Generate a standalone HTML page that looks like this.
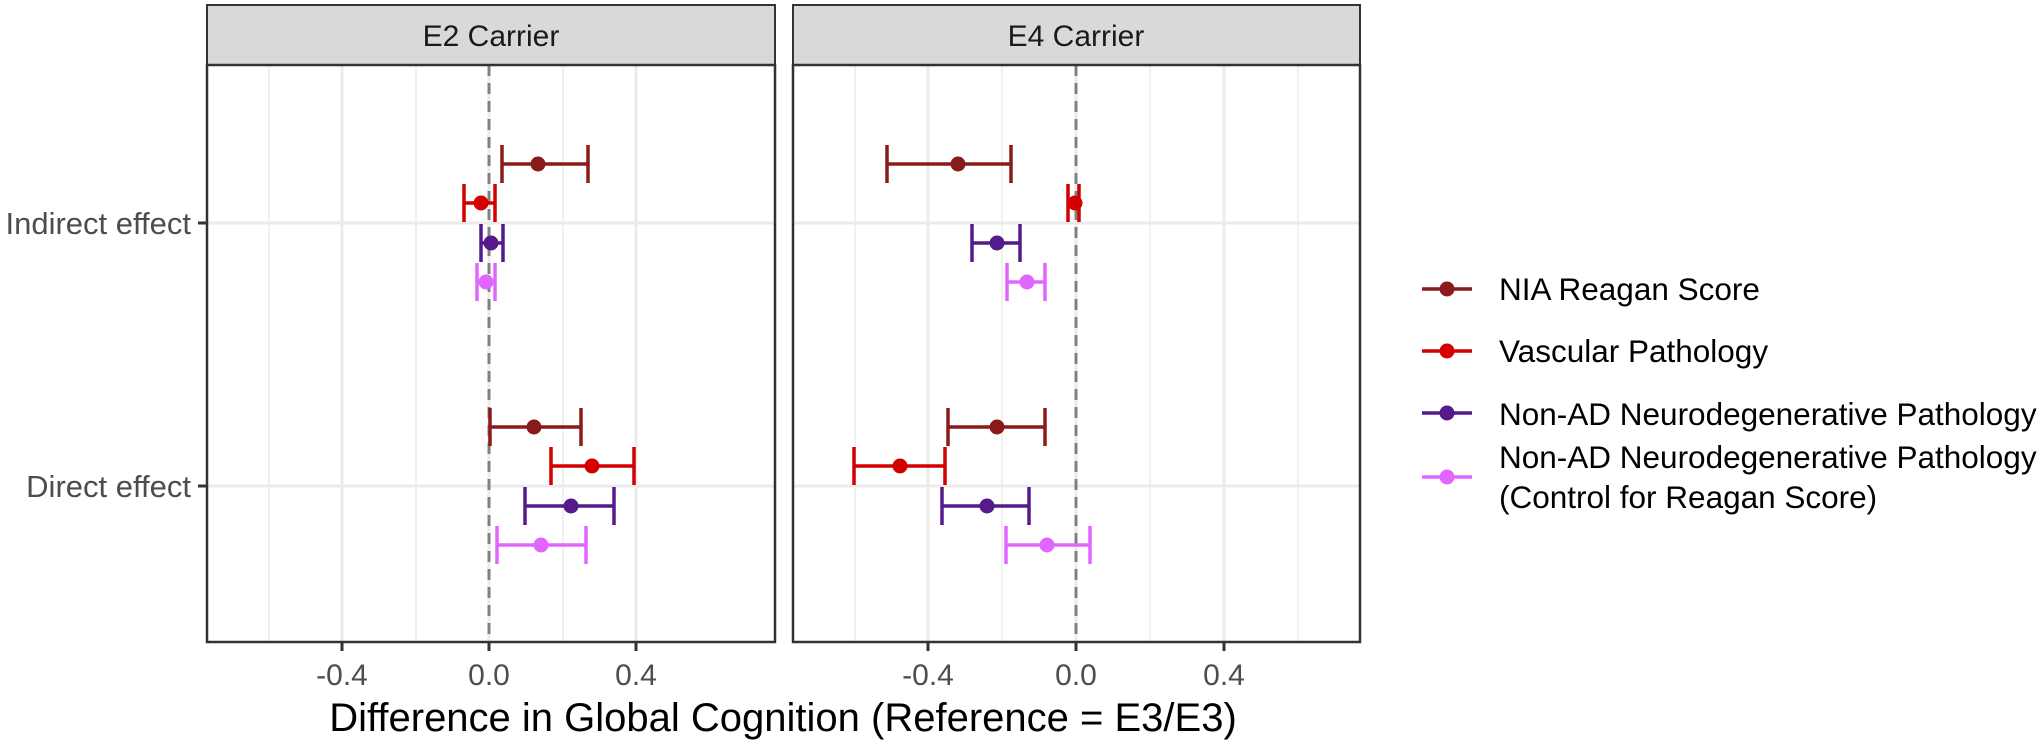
<!DOCTYPE html>
<html><head><meta charset="utf-8"><style>html,body{margin:0;padding:0;background:#fff}svg{display:block}</style></head>
<body>
<svg width="2040" height="744" xmlns="http://www.w3.org/2000/svg" font-family="Liberation Sans, Arial, sans-serif">
<rect width="2040" height="744" fill="#fff"/>
<!-- panel 1 -->
<g>
<rect x="207" y="5" width="568" height="60" fill="#d9d9d9" stroke="#333" stroke-width="2"/>
<text x="491" y="46" font-size="30" text-anchor="middle" fill="#1a1a1a">E2 Carrier</text>
<g stroke="#ebebeb">
<line x1="269" y1="65" x2="269" y2="642" stroke-width="1.5"/><line x1="416" y1="65" x2="416" y2="642" stroke-width="1.5"/><line x1="563" y1="65" x2="563" y2="642" stroke-width="1.5"/>
<line x1="342" y1="65" x2="342" y2="642" stroke-width="3"/><line x1="489" y1="65" x2="489" y2="642" stroke-width="3"/><line x1="636" y1="65" x2="636" y2="642" stroke-width="3"/>
<line x1="207" y1="223" x2="775" y2="223" stroke-width="3"/><line x1="207" y1="486" x2="775" y2="486" stroke-width="3"/>
</g>
<line x1="489" y1="65" x2="489" y2="642" stroke="#808080" stroke-width="3" stroke-dasharray="11,7"/>
</g>
<!-- panel 2 -->
<g>
<rect x="793" y="5" width="567" height="60" fill="#d9d9d9" stroke="#333" stroke-width="2"/>
<text x="1076" y="46" font-size="30" text-anchor="middle" fill="#1a1a1a">E4 Carrier</text>
<g stroke="#ebebeb">
<line x1="855" y1="65" x2="855" y2="642" stroke-width="1.5"/><line x1="1002" y1="65" x2="1002" y2="642" stroke-width="1.5"/><line x1="1150" y1="65" x2="1150" y2="642" stroke-width="1.5"/><line x1="1298" y1="65" x2="1298" y2="642" stroke-width="1.5"/>
<line x1="928" y1="65" x2="928" y2="642" stroke-width="3"/><line x1="1076" y1="65" x2="1076" y2="642" stroke-width="3"/><line x1="1224" y1="65" x2="1224" y2="642" stroke-width="3"/>
<line x1="793" y1="223" x2="1360" y2="223" stroke-width="3"/><line x1="793" y1="486" x2="1360" y2="486" stroke-width="3"/>
</g>
<line x1="1076" y1="65" x2="1076" y2="642" stroke="#808080" stroke-width="3" stroke-dasharray="11,7"/>
</g>
<!-- error bars -->
<g stroke-width="3.5" fill="none">
<g stroke="#8b1a1a"><path d="M502 164H588M502 145V183M588 145V183"/></g>
<g stroke="#d40000"><path d="M464 203H495M464 184V222M495 184V222"/></g>
<g stroke="#551a8b"><path d="M481 243H503M481 224V262M503 224V262"/></g>
<g stroke="#e066ff"><path d="M477 282H495M477 263V301M495 263V301"/></g>
<g stroke="#8b1a1a"><path d="M490 427H581M490 408V446M581 408V446"/></g>
<g stroke="#d40000"><path d="M551 466H634M551 447V485M634 447V485"/></g>
<g stroke="#551a8b"><path d="M525 506H614M525 487V525M614 487V525"/></g>
<g stroke="#e066ff"><path d="M497 545H586M497 526V564M586 526V564"/></g>
<g stroke="#8b1a1a"><path d="M887 164H1011M887 145V183M1011 145V183"/></g>
<g stroke="#d40000"><path d="M1068 203H1079M1068 184V222M1079 184V222"/></g>
<g stroke="#551a8b"><path d="M972 243H1020M972 224V262M1020 224V262"/></g>
<g stroke="#e066ff"><path d="M1007 282H1045M1007 263V301M1045 263V301"/></g>
<g stroke="#8b1a1a"><path d="M948 427H1045M948 408V446M1045 408V446"/></g>
<g stroke="#d40000"><path d="M854 466H945M854 447V485M945 447V485"/></g>
<g stroke="#551a8b"><path d="M942 506H1029M942 487V525M1029 487V525"/></g>
<g stroke="#e066ff"><path d="M1006 545H1090M1006 526V564M1090 526V564"/></g>
</g>
<g>
<circle cx="538" cy="164" r="7.5" fill="#8b1a1a"/><circle cx="481" cy="203" r="7.5" fill="#d40000"/><circle cx="491" cy="243" r="7.5" fill="#551a8b"/><circle cx="486" cy="282" r="7.5" fill="#e066ff"/>
<circle cx="534" cy="427" r="7.5" fill="#8b1a1a"/><circle cx="592" cy="466" r="7.5" fill="#d40000"/><circle cx="571" cy="506" r="7.5" fill="#551a8b"/><circle cx="541" cy="545" r="7.5" fill="#e066ff"/>
<circle cx="958" cy="164" r="7.5" fill="#8b1a1a"/><circle cx="1075" cy="203" r="7.5" fill="#d40000"/><circle cx="997" cy="243" r="7.5" fill="#551a8b"/><circle cx="1027" cy="282" r="7.5" fill="#e066ff"/>
<circle cx="997" cy="427" r="7.5" fill="#8b1a1a"/><circle cx="900" cy="466" r="7.5" fill="#d40000"/><circle cx="987" cy="506" r="7.5" fill="#551a8b"/><circle cx="1047" cy="545" r="7.5" fill="#e066ff"/>
</g>
<rect x="207" y="65" width="568" height="577" fill="none" stroke="#333" stroke-width="2.5"/>
<rect x="793" y="65" width="567" height="577" fill="none" stroke="#333" stroke-width="2.5"/>
<g stroke="#333" stroke-width="3"><line x1="198" y1="223" x2="207" y2="223"/><line x1="198" y1="486" x2="207" y2="486"/></g>
<g font-size="31" fill="#4d4d4d" text-anchor="end">
<text x="191" y="234">Indirect effect</text>
<text x="191" y="497">Direct effect</text>
</g>
<g stroke="#333" stroke-width="3">
<line x1="342" y1="642" x2="342" y2="651"/><line x1="489" y1="642" x2="489" y2="651"/><line x1="636" y1="642" x2="636" y2="651"/>
<line x1="928" y1="642" x2="928" y2="651"/><line x1="1076" y1="642" x2="1076" y2="651"/><line x1="1224" y1="642" x2="1224" y2="651"/>
</g>
<g font-size="30" fill="#4d4d4d" text-anchor="middle">
<text x="342" y="685">-0.4</text><text x="489" y="685">0.0</text><text x="636" y="685">0.4</text>
<text x="928" y="685">-0.4</text><text x="1076" y="685">0.0</text><text x="1224" y="685">0.4</text>
</g>
<text x="783" y="731" font-size="40" text-anchor="middle" fill="#000">Difference in Global Cognition (Reference = E3/E3)</text>
<g stroke-width="3.5">
<line x1="1422" y1="289" x2="1472" y2="289" stroke="#8b1a1a"/><circle cx="1447" cy="289" r="7.5" fill="#8b1a1a"/>
<line x1="1422" y1="351" x2="1472" y2="351" stroke="#d40000"/><circle cx="1447" cy="351" r="7.5" fill="#d40000"/>
<line x1="1422" y1="413" x2="1472" y2="413" stroke="#551a8b"/><circle cx="1447" cy="413" r="7.5" fill="#551a8b"/>
<line x1="1422" y1="477" x2="1472" y2="477" stroke="#e066ff"/><circle cx="1447" cy="477" r="7.5" fill="#e066ff"/>
</g>
<g font-size="31.5" fill="#000">
<text x="1499" y="300">NIA Reagan Score</text>
<text x="1499" y="362">Vascular Pathology</text>
<text x="1499" y="425">Non-AD Neurodegenerative Pathology</text>
<text x="1499" y="468">Non-AD Neurodegenerative Pathology</text>
<text x="1499" y="508">(Control for Reagan Score)</text>
</g>
</svg>
</body></html>
